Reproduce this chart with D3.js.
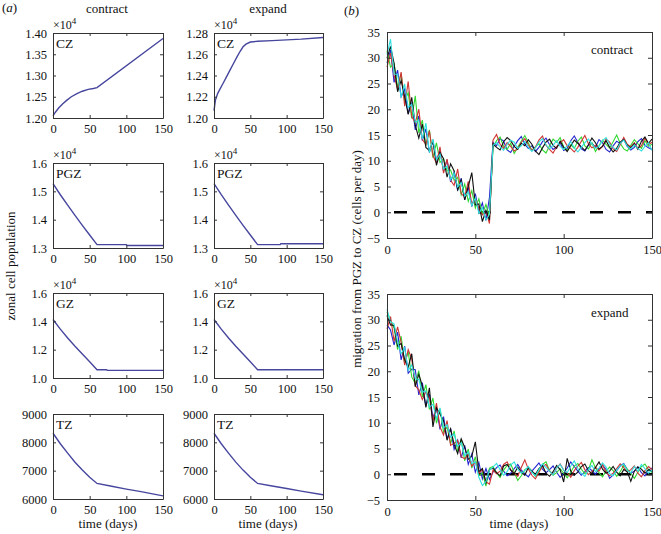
<!DOCTYPE html>
<html><head><meta charset="utf-8">
<script src="https://cdn.jsdelivr.net/npm/d3@7"></script>
<style>
body{margin:0;background:#fff}
svg{display:block}
</style>
</head><body><svg id="c" width="661" height="534"></svg>
<script>
// ---------- DATA ----------
const xTickVals = [0, 50, 100, 150];

const czContractDays = [0, 3, 8, 13, 19, 25, 32, 40, 48, 55, 60, 150];
const czContractPop  = [12050, 12130, 12240, 12330, 12420, 12500, 12570, 12630, 12675, 12695, 12715, 13870];
const czExpandDays = [0, 2, 5, 8, 12, 17, 22, 27, 32, 36, 40, 44, 50, 60, 80, 100, 120, 150];
const czExpandPop  = [12070, 12170, 12230, 12270, 12320, 12385, 12450, 12515, 12580, 12628, 12670, 12695, 12715, 12722, 12728, 12735, 12742, 12758];

const pgzContractDays = [0, 10, 20, 30, 40, 50, 60, 100, 101, 150];
const pgzContractPop  = [15270, 14880, 14510, 14150, 13800, 13460, 13120, 13120, 13090, 13090];
const pgzExpandDays = [0, 10, 20, 30, 40, 50, 60, 91, 92, 150];
const pgzExpandPop  = [15270, 14880, 14510, 14150, 13800, 13460, 13120, 13120, 13150, 13150];

const gzContractDays = [0, 10, 20, 30, 40, 50, 60, 73, 74, 150];
const gzContractPop  = [14130, 13450, 12820, 12240, 11700, 11150, 10580, 10580, 10540, 10540];
const gzExpandDays = [0, 10, 20, 30, 40, 50, 60, 150];
const gzExpandPop  = [14130, 13450, 12820, 12240, 11700, 11150, 10580, 10580];

const tzContractDays = [0, 10, 20, 30, 40, 50, 60, 80, 100, 120, 150];
const tzContractPop  = [8320, 7950, 7620, 7300, 7020, 6770, 6550, 6450, 6350, 6260, 6110];
const tzExpandDays = [0, 10, 20, 30, 40, 50, 60, 80, 100, 120, 150];
const tzExpandPop  = [8320, 7950, 7620, 7300, 7020, 6770, 6550, 6460, 6370, 6280, 6150];

const czContractTicks = [12000, 12500, 13000, 13500, 14000];
const czContractTickLabels = ["1.20", "1.25", "1.30", "1.35", "1.40"];
const czExpandTicks = [12000, 12200, 12400, 12600, 12800];
const czExpandTickLabels = ["1.20", "1.22", "1.24", "1.26", "1.28"];
const pgzTicks = [13000, 14000, 15000, 16000];
const pgzTickLabels = ["1.3", "1.4", "1.5", "1.6"];
const gzTicks = [10000, 12000, 14000, 16000];
const gzTickLabels = ["1.0", "1.2", "1.4", "1.6"];
const tzTicks = [6000, 7000, 8000, 9000];
const tzTickLabels = ["6000", "7000", "8000", "9000"];

const migTicks = [-5, 0, 5, 10, 15, 20, 25, 30, 35];
const migTickLabels = ["\u22125", "0", "5", "10", "15", "20", "25", "30", "35"];
const migDays = d3.range(0, 151, 2);

// contract runs (one value every 2 days, day 0..150)
const contractBlue = [29.0, 31.5, 25.2, 27.6, 22.4, 23.9, 19.1, 21.3, 16.0, 18.7,
 13.9, 16.2, 11.6, 13.8, 10.0, 11.9, 8.0, 10.2, 5.9, 7.8,
 4.2, 6.6, 2.4, 4.9, 1.1, 3.6, 0.1, 1.8, -1.6, 2.9,
 13.6, 12.9, 14.3, 13.8, 12.1, 11.6, 12.8, 13.9, 14.7, 13.2,
 12.4, 12.9, 11.8, 12.6, 13.7, 14.4, 13.1, 12.2, 12.7, 13.5,
 12.0, 12.4, 13.9, 14.8, 13.6, 12.3, 11.9, 13.0, 13.4, 12.6,
 14.1, 13.5, 12.2, 11.7, 12.9, 13.8, 13.3, 14.2, 12.8, 12.1,
 12.6, 13.7, 14.3, 13.0, 12.5, 12.2];
const contractGreen = [31.4, 28.2, 28.9, 24.3, 26.9, 21.6, 23.2, 18.2, 22.6, 15.4,
 17.9, 12.9, 16.0, 10.6, 13.5, 9.7, 10.4, 8.0, 8.2, 6.2,
 6.8, 3.4, 5.5, 2.1, 4.2, 0.8, 2.6, -0.3, 1.5, -0.8,
 12.5, 13.9, 14.6, 12.8, 12.2, 13.4, 11.4, 12.6, 13.8, 14.9,
 13.5, 12.0, 12.7, 13.3, 12.1, 11.5, 12.9, 14.2, 13.6, 14.5,
 12.7, 12.0, 13.1, 12.4, 13.8, 14.6, 12.9, 12.3, 13.5, 11.8,
 12.9, 14.0, 13.2, 12.5, 13.7, 15.0, 13.4, 12.3, 11.9, 13.0,
 14.1, 13.3, 12.4, 13.9, 12.8, 13.2];
const contractRed = [28.2, 30.9, 26.6, 23.8, 27.2, 20.6, 25.4, 18.6, 17.4, 20.0,
 14.1, 13.2, 15.8, 11.0, 9.5, 12.7, 7.6, 10.3, 6.2, 5.2,
 8.4, 3.6, 3.0, 6.0, 1.5, 2.7, 0.6, -0.5, 0.2, -2.2,
 14.0, 15.1, 13.2, 12.4, 13.5, 12.8, 11.9, 12.3, 13.6, 14.3,
 13.1, 12.0, 12.6, 14.0, 14.8, 13.0, 12.2, 11.5, 12.7, 13.4,
 14.1, 12.9, 12.4, 11.7, 12.6, 13.8, 14.9, 13.3, 12.5, 13.0,
 12.1, 12.8, 14.2, 13.6, 12.3, 11.8, 13.1, 14.5, 13.2, 12.7,
 13.5, 12.4, 12.9, 14.4, 13.1, 13.6];
const contractBlack = [29.9, 32.2, 28.9, 23.4, 25.6, 22.4, 19.0, 22.3, 16.9, 14.4,
 17.1, 12.6, 12.0, 13.8, 9.1, 11.6, 10.4, 6.8, 9.4, 8.0,
 4.4, 6.3, 2.4, 5.0, 7.7, 1.4, 1.6, -1.8, 0.4, -1.5,
 13.3, 12.6, 12.1, 13.7, 14.5, 13.9, 12.8, 12.2, 13.4, 12.9,
 14.1, 13.2, 11.9, 11.2, 12.5, 13.6, 14.2, 13.0, 12.4, 13.8,
 12.6, 11.8, 12.9, 14.0, 13.4, 12.7, 12.0, 13.1, 14.4, 13.5,
 12.3, 12.8, 13.9, 12.6, 11.7, 12.4, 13.6, 14.1, 13.0, 12.5,
 13.3, 12.2, 13.8, 14.6, 13.4, 14.2];
const contractCyan = [30.6, 33.6, 26.8, 26.8, 22.3, 24.9, 20.3, 21.0, 17.5, 17.9,
 14.2, 17.3, 11.6, 14.2, 10.2, 11.3, 8.4, 9.0, 6.3, 7.6,
 4.9, 5.8, 3.1, 4.0, 1.3, 2.8, -0.2, 0.9, -1.5, -0.4,
 13.0, 13.5, 12.7, 12.0, 13.2, 14.0, 13.6, 12.4, 12.9, 13.8,
 12.6, 11.8, 12.5, 13.6, 14.3, 13.1, 12.3, 13.0, 13.9, 12.8,
 12.2, 12.9, 13.7, 12.5, 11.7, 12.6, 13.5, 14.2, 13.3, 12.4,
 12.8, 13.9, 14.5, 13.2, 12.6, 12.1, 13.4, 14.0, 12.9, 12.3,
 13.1, 12.4, 11.9, 12.8, 13.5, 12.0];

// expand runs
const expandBlue = [29.0, 28.0, 25.1, 27.6, 22.2, 24.9, 19.6, 20.4, 20.3, 15.4,
 17.8, 13.2, 15.6, 10.9, 13.0, 8.7, 11.2, 6.8, 8.9, 4.8,
 6.6, 3.2, 5.6, 1.9, 3.9, 0.4, 2.3, -0.9, 1.1, -1.0,
 0.4, 1.3, 1.8, 0.6, -0.3, 0.2, 1.1, 1.9, 0.8, 0.1,
 -0.5, 0.6, 1.4, 2.2, 1.0, 0.3, 0.9, 1.6, 0.4, -0.6,
 0.2, 1.2, 2.4, 1.5, 0.6, -0.2, 0.5, 1.3, 0.7, 0.0,
 1.1, 1.8, 0.9, -0.8, -0.1, 0.7, 1.6, 2.1, 0.9, 0.2,
 0.6, 1.4, 0.3, -0.3, 0.8, 1.2];
const expandGreen = [31.5, 29.9, 28.4, 24.2, 26.8, 21.6, 23.8, 18.9, 17.6, 20.1,
 15.0, 17.4, 12.6, 14.8, 9.9, 12.7, 8.2, 9.2, 5.9, 8.4,
 4.4, 6.8, 2.6, 4.9, 1.2, 3.4, -0.3, 0.3, -2.3, 1.2,
 1.5, 0.3, -0.6, 0.8, 1.7, 2.0, 0.4, -1.2, -0.3, 0.9,
 1.3, 0.6, -0.4, 0.5, 1.9, 2.4, 0.7, -0.2, 0.3, 1.1,
 0.2, -0.7, 0.4, 1.6, 2.1, 1.0, 0.1, 0.8, 2.8, 1.2,
 0.3, -0.5, 0.6, 1.4, 0.7, -0.4, 0.5, 1.7, 1.0, 0.2,
 -0.8, 0.4, 1.5, 2.0, 0.9, 0.3];
const expandRed = [28.2, 30.6, 25.8, 28.6, 25.6, 21.2, 24.2, 22.4, 17.2, 16.4,
 14.5, 16.0, 14.9, 10.2, 13.8, 9.2, 7.6, 10.4, 5.6, 6.0,
 6.6, 3.4, 3.0, 3.9, 1.6, 2.4, 0.2, 0.9, -1.5, -1.9,
 0.8, 0.1, 0.6, 1.9, 2.4, 0.9, 0.2, -0.4, 1.3, 2.8,
 1.0, -0.2, -0.9, 0.4, 1.5, 1.9, 0.6, 0.0, 1.2, 2.0,
 0.8, 0.3, -0.6, 0.7, 1.6, 2.3, 0.9, -0.1, 0.5, 1.4,
 0.6, 1.8, 0.4, -0.3, 0.2, 1.1, 2.0, 1.3, 0.4, 0.9,
 1.6, 0.2, -0.5, 0.7, 1.5, 0.9];
const expandBlack = [30.8, 29.0, 28.9, 24.9, 25.4, 22.2, 20.8, 23.4, 17.0, 19.4,
 17.2, 13.0, 16.8, 9.2, 12.9, 11.7, 10.4, 6.6, 8.8, 5.8,
 4.0, 6.9, 5.2, 2.9, 3.5, 6.3, 0.5, 1.1, -1.6, 0.9,
 1.2, 0.3, -0.3, 1.6, 1.9, 0.8, 0.1, 1.4, 0.4, -0.2,
 1.3, 0.6, 0.0, 1.1, 1.7, 0.2, -0.4, 0.5, 1.7, 0.9,
 -1.5, 3.1, 0.6, -0.2, 0.4, 1.5, 2.0, 0.7, 0.1, 1.3,
 2.4, 1.0, 0.2, 0.6, 1.5, 0.4, -0.3, 0.9, 0.5, -1.4,
 0.6, 1.4, 1.0, 0.2, 0.9, 0.6];
const expandCyan = [32.0, 29.6, 29.2, 25.6, 23.4, 24.6, 20.2, 21.2, 18.6, 18.4,
 15.9, 16.2, 13.0, 13.6, 10.8, 12.9, 9.0, 9.6, 7.2, 7.8,
 5.4, 6.1, 3.6, 4.3, 2.1, 2.4, -0.6, -2.2, -1.4, 0.8,
 1.4, 2.1, 0.9, -0.2, 0.5, 1.8, 2.4, 1.0, 0.2, 0.7,
 1.5, 0.4, -0.3, 0.9, 2.0, 1.3, 0.6, -0.1, 1.2, 1.9,
 0.8, 0.3, 1.6, 2.6, 1.1, 0.2, -0.4, 0.9, 1.7, 0.5,
 1.2, 2.2, 1.4, 0.1, -0.3, 0.8, 1.6, 2.0, 0.7, 0.3,
 1.5, 0.6, 1.9, 1.1, 0.2, 0.8];

const runColors = ["#2424d0", "#30d830", "#d03434", "#111111", "#30e0e0"];

// ---------- DRAWING ----------
const FONT = "'Liberation Serif','Times New Roman',serif";
const svg = d3.select("#c");
const AX = "#333";

function styleAxis(g, fs) {
  g.attr("font-family", FONT).attr("font-size", fs);
  g.selectAll("path.domain").attr("stroke", AX).attr("stroke-width", 1);
  g.selectAll(".tick line").attr("stroke", AX);
  g.selectAll(".tick text").attr("fill", "#111");
}

function drawFrame(g, xs, ys, xVals, yVals, yLabels, len, pad, fs) {
  const [x0, x1] = xs.range();
  const [yb, yt] = ys.range();
  styleAxis(g.append("g").attr("transform", `translate(0,${yb})`)
    .call(d3.axisBottom(xs).tickValues(xVals).tickFormat(d3.format("d")).tickSizeInner(-len).tickSizeOuter(0).tickPadding(pad)), fs);
  styleAxis(g.append("g").attr("transform", `translate(0,${yt})`)
    .call(d3.axisTop(xs).tickValues(xVals).tickFormat("").tickSizeInner(-len).tickSizeOuter(0)), fs);
  styleAxis(g.append("g").attr("transform", `translate(${x0},0)`)
    .call(d3.axisLeft(ys).tickValues(yVals).tickFormat((d, i) => yLabels[i]).tickSizeInner(-len).tickSizeOuter(0).tickPadding(pad)), fs);
  styleAxis(g.append("g").attr("transform", `translate(${x1},0)`)
    .call(d3.axisRight(ys).tickValues(yVals).tickFormat("").tickSizeInner(-len).tickSizeOuter(0)), fs);
}

const colLeft = [53, 214], colW = [110, 109];
const rowTop = [33, 163, 293, 414], rowH = 85;

const panels = [
  {r:0, c:0, days:czContractDays, pop:czContractPop, dom:[12000,14000], ticks:czContractTicks, labels:czContractTickLabels, zone:"CZ", exp:true},
  {r:0, c:1, days:czExpandDays, pop:czExpandPop, dom:[12000,12800], ticks:czExpandTicks, labels:czExpandTickLabels, zone:"CZ", exp:true},
  {r:1, c:0, days:pgzContractDays, pop:pgzContractPop, dom:[13000,16000], ticks:pgzTicks, labels:pgzTickLabels, zone:"PGZ", exp:true},
  {r:1, c:1, days:pgzExpandDays, pop:pgzExpandPop, dom:[13000,16000], ticks:pgzTicks, labels:pgzTickLabels, zone:"PGZ", exp:true},
  {r:2, c:0, days:gzContractDays, pop:gzContractPop, dom:[10000,16000], ticks:gzTicks, labels:gzTickLabels, zone:"GZ", exp:true},
  {r:2, c:1, days:gzExpandDays, pop:gzExpandPop, dom:[10000,16000], ticks:gzTicks, labels:gzTickLabels, zone:"GZ", exp:true},
  {r:3, c:0, days:tzContractDays, pop:tzContractPop, dom:[6000,9000], ticks:tzTicks, labels:tzTickLabels, zone:"TZ", exp:false},
  {r:3, c:1, days:tzExpandDays, pop:tzExpandPop, dom:[6000,9000], ticks:tzTicks, labels:tzTickLabels, zone:"TZ", exp:false}
];

panels.forEach(p => {
  const x0 = colLeft[p.c], w = colW[p.c], y0 = rowTop[p.r];
  const xs = d3.scaleLinear().domain([0, 150]).range([x0, x0 + w]);
  const ys = d3.scaleLinear().domain(p.dom).range([y0 + rowH, y0]);
  const g = svg.append("g");
  const pts = p.days.map((d, i) => [d, p.pop[i]]);
  g.append("path").datum(pts)
    .attr("fill", "none").attr("stroke", "#46469e").attr("stroke-width", 1.4)
    .attr("d", d3.line().x(d => xs(d[0])).y(d => ys(d[1])));
  drawFrame(g, xs, ys, xTickVals, p.ticks, p.labels, 3, 6, 12.5);
  g.append("text").attr("x", x0 + 3).attr("y", y0 + 15)
    .attr("font-family", FONT).attr("font-size", 13.5).attr("fill", "#111").text(p.zone);
  if (p.exp) {
    const t = g.append("text").attr("x", x0).attr("y", y0 - 4)
      .attr("font-family", FONT).attr("font-size", 12).attr("fill", "#111");
    t.append("tspan").text("×10");
    t.append("tspan").attr("font-size", 9).attr("dy", -5).text("4");
  }
});

function label(x, y, txt, rot) {
  const t = svg.append("text").attr("x", x).attr("y", y)
    .attr("font-family", FONT).attr("font-size", 13).attr("fill", "#111")
    .attr("text-anchor", "middle");
  if (rot) t.attr("transform", `rotate(-90,${x},${y})`);
  return t.text(txt);
}
label(107, 13, "contract");
label(268, 13, "expand");
svg.append("text").attr("x", 2).attr("y", 12).attr("font-family", FONT).attr("font-size", 13).attr("fill", "#111")
  .html('(<tspan font-style="italic">a</tspan>)');
svg.append("text").attr("x", 344).attr("y", 15).attr("font-family", FONT).attr("font-size", 13).attr("fill", "#111")
  .html('(<tspan font-style="italic">b</tspan>)');
label(15, 266, "zonal cell population", true);
label(361, 259, "migration from PGZ to CZ (cells per day)", true);
label(108, 528, "time (days)");
label(268, 528, "time (days)");
label(519, 528, "time (days)");

const migPanels = [
  {top: 32, runs: [contractBlue, contractGreen, contractRed, contractBlack, contractCyan], name: "contract", ty: 54},
  {top: 294, runs: [expandBlue, expandGreen, expandRed, expandBlack, expandCyan], name: "expand", ty: 317}
];
migPanels.forEach(mp => {
  const xs = d3.scaleLinear().domain([0, 150]).range([387, 652]);
  const ys = d3.scaleLinear().domain([-5, 35]).range([mp.top + 206, mp.top]);
  const g = svg.append("g");
  g.append("line").attr("x1", xs(0)).attr("x2", xs(150)).attr("y1", ys(0)).attr("y2", ys(0))
    .attr("stroke", "#000").attr("stroke-width", 2.4)
    .attr("stroke-dasharray", "13,15").attr("stroke-dashoffset", 21);
  const line = d3.line().x((d, i) => xs(migDays[i])).y(d => ys(d));
  mp.runs.forEach((run, k) => {
    g.append("path").datum(run).attr("fill", "none")
      .attr("stroke", runColors[k]).attr("stroke-width", 1.1).attr("d", line);
  });
  drawFrame(g, xs, ys, xTickVals, migTicks, migTickLabels, 4, 7, 12.5);
  g.append("text").attr("x", 591).attr("y", mp.ty).attr("font-family", FONT)
    .attr("font-size", 13).attr("fill", "#111").text(mp.name);
});
</script>
</body></html>
